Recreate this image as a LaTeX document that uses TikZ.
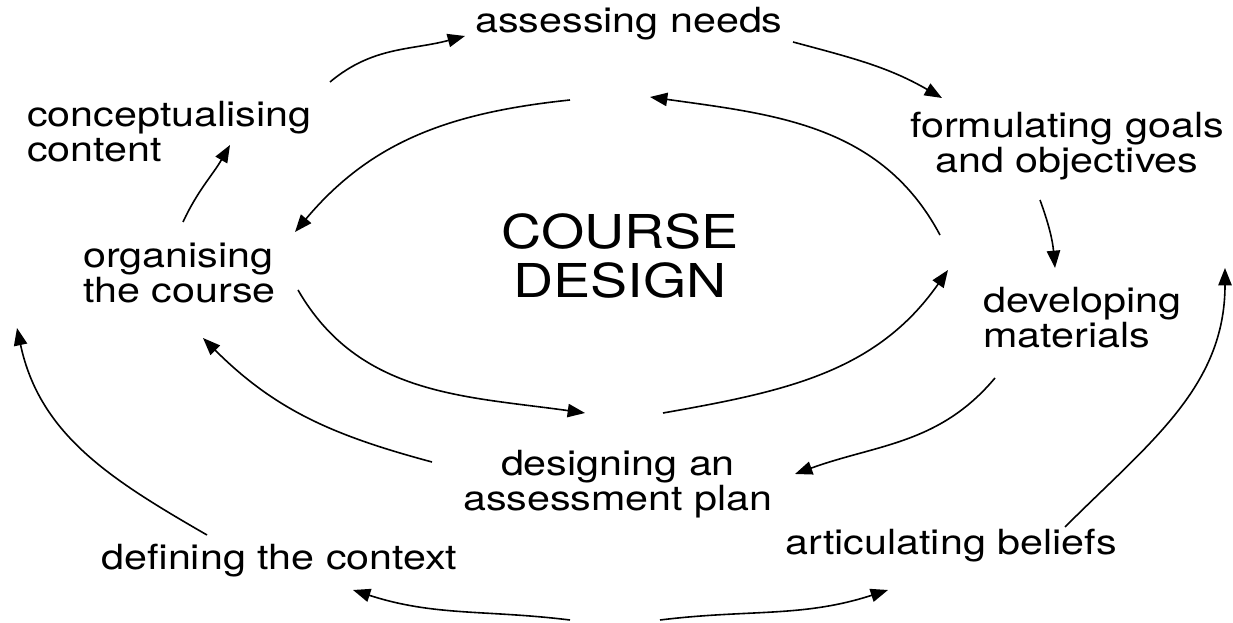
\documentclass[tikz,border=0pt]{standalone}
\usepackage{fontspec}
\setmainfont{TeX Gyre Heros}[FakeStretch=1.19]
\usetikzlibrary{arrows.meta}
\begin{document}
\begin{tikzpicture}[x=0.75pt,y=0.75pt,
  lbl/.style={inner sep=0pt, font=\fontsize{26}{26.25}\selectfont},
  big/.style={inner sep=0pt, align=center, font=\fontsize{35}{36}\selectfont},
  arr/.style={line width=1.2pt, -{Triangle[length=13pt,width=10pt]}}]
\useasboundingbox (0,0) rectangle (1233,622);
% labels (base anchor = baseline of last line)
\node[lbl,anchor=base] (assess) at (629,589) {assessing needs};
\node[lbl,anchor=base west,align=left] (concept) at (27,460) {conceptualising\\content};
\node[lbl,anchor=base,align=center] (formul) at (1067,449) {formulating goals\\and objectives};
\node[lbl,anchor=base west,align=left] (organ) at (83,319) {organising\\the course};
\node[lbl,anchor=base west,align=left] (devel) at (983,274) {developing\\materials};
\node[big,anchor=base] (course) at (620,325) {COURSE\\DESIGN};
\node[lbl,anchor=base,align=center] (plan) at (618,112) {designing an\\assessment plan};
\node[lbl,anchor=base] (context) at (279.5,52) {defining the context};
\node[lbl,anchor=base] (beliefs) at (951,67) {articulating beliefs};
% connector ends
\coordinate (a1s) at (330,540); \coordinate (a1e) at (465,586);
\coordinate (a2s) at (793,580); \coordinate (a2e) at (942,524);
\coordinate (a3s) at (1040,422); \coordinate (a3e) at (1055,354);
\coordinate (a4s) at (995,244); \coordinate (a4e) at (795,148);
\coordinate (a5s) at (432,160); \coordinate (a5e) at (203,284);
\coordinate (a6s) at (183,400); \coordinate (a6e) at (230,477);
\coordinate (i1s) at (940,387); \coordinate (i1e) at (650,525);
\coordinate (i2s) at (570,522); \coordinate (i2e) at (295,390);
\coordinate (i3s) at (298,332); \coordinate (i3e) at (585,209);
\coordinate (i4s) at (663,209); \coordinate (i4e) at (948,352);
\coordinate (o1s) at (207,87); \coordinate (o1e) at (17,294);
\coordinate (o2s) at (1065,95); \coordinate (o2e) at (1225,354);
\coordinate (o3s) at (570,2); \coordinate (o3e) at (353,32);
\coordinate (o4s) at (660,2); \coordinate (o4e) at (888,32);
% outer cycle arrows
\draw[arr] (a1s) to[out=40,in=-165] (a1e);
\draw[arr] (a2s) to[out=-15,in=150] (a2e);
\draw[arr] (a3s) to[out=-70,in=95] (a3e);
\draw[arr] (a4s) to[out=-130,in=20] (a4e);
\draw[arr] (a5s) to[out=165,in=-45] (a5e);
\draw[arr] (a6s) to[out=65,in=-120] (a6e);
% inner ellipse
\draw[arr] (i1s) to[out=118,in=-8] (i1e);
\draw[arr] (i2s) to[out=186,in=50] (i2e);
\draw[arr] (i3s) to[out=-60,in=172] (i3e);
\draw[arr] (i4s) to[out=10,in=-125] (i4e);
% big outer arrows
\draw[arr] (o1s) to[out=150,in=-78] (o1e);
\draw[arr] (o2s) to[out=45,in=-90] (o2e);
\draw[arr] (o3s) to[out=173,in=-18] (o3e);
\draw[arr] (o4s) to[out=7,in=-162] (o4e);
\end{tikzpicture}
\end{document}
